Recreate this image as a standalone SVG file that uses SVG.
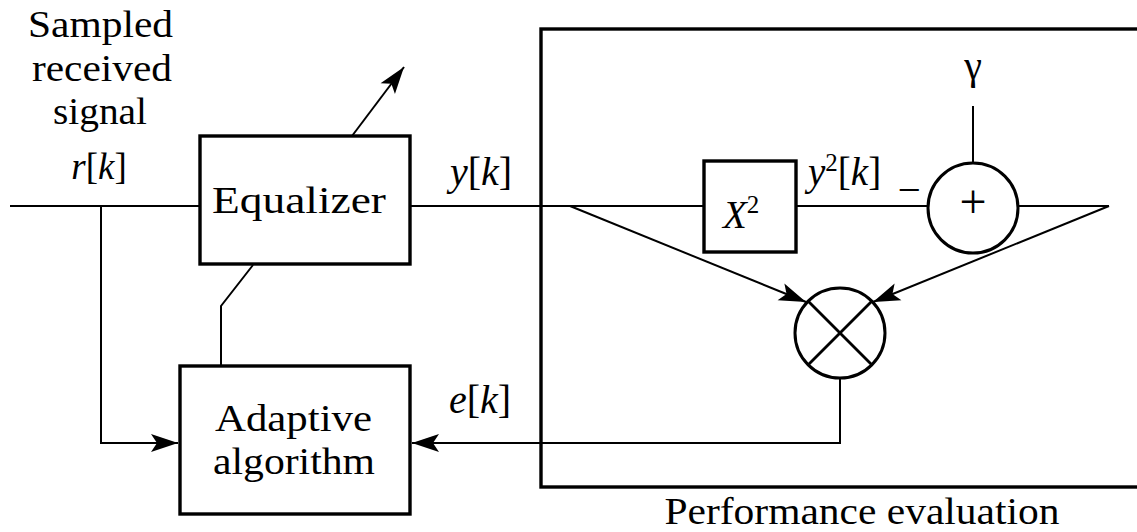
<svg xmlns="http://www.w3.org/2000/svg" width="1137" height="532" viewBox="0 0 1137 532">
  <defs>
    <!-- filled arrowhead with a notched back -->
    <marker id="arrow" markerUnits="userSpaceOnUse" markerWidth="30" markerHeight="22" viewBox="-28 -11 30 22" refX="0" refY="0" orient="auto">
      <path d="M0,0 L-27,-9 L-21,0 L-27,9 Z" fill="#000"/>
    </marker>
  </defs>
  <style>
    .box { fill: #fff; stroke: #000; stroke-width: 3.4; }
    .ring { fill: #fff; stroke: #000; stroke-width: 3; }
    .wire { fill: none; stroke: #000; stroke-width: 2; }
    .cross { fill: none; stroke: #000; stroke-width: 2.8; }
    .frame { fill: none; stroke: #000; stroke-width: 3.4; }
    text { font-family: "Liberation Serif", "Times New Roman", serif; fill: #000; font-size: 37px; }
    .c { text-anchor: middle; }
    .i { font-style: italic; }
    .sup { font-size: 25px; }
  </style>

  <rect width="1137" height="532" fill="#fff"/>

  <!-- performance evaluation frame (runs past the right edge) -->
  <g id="frame">
    <rect class="frame" x="541" y="29" width="620" height="458"/>
    <text class="c" x="862" y="524" textLength="395" lengthAdjust="spacingAndGlyphs">Performance evaluation</text>
  </g>

  <!-- connectors -->
  <g id="connectors">
    <!-- input r[k] into the equalizer -->
    <line class="wire" x1="10" y1="206" x2="200" y2="206"/>
    <!-- r[k] branch to the adaptive algorithm -->
    <polyline class="wire" points="101,206 101,443 178,443" marker-end="url(#arrow)"/>
    <!-- equalizer output y[k] to squarer -->
    <line class="wire" x1="410" y1="206" x2="704" y2="206"/>
    <!-- squarer to summer -->
    <line class="wire" x1="796" y1="206" x2="928" y2="206"/>
    <!-- gamma into summer -->
    <line class="wire" x1="973" y1="106" x2="973" y2="163"/>
    <!-- summer output -->
    <line class="wire" x1="1018" y1="206" x2="1109" y2="206"/>
    <!-- y[k] tap into multiplier -->
    <line class="wire" x1="570" y1="206" x2="806" y2="302" marker-end="url(#arrow)"/>
    <!-- summer output into multiplier -->
    <line class="wire" x1="1109" y1="206" x2="873" y2="302" marker-end="url(#arrow)"/>
    <!-- error e[k] back to the adaptive algorithm -->
    <polyline class="wire" points="840,378 840,443 412,443" marker-end="url(#arrow)"/>
    <!-- coefficient update from adaptive algorithm to equalizer -->
    <polyline class="wire" points="221,366 221,306 253,265"/>
    <!-- adjustable-tap arrow through the equalizer -->
    <line class="wire" x1="352" y1="136" x2="404" y2="67" marker-end="url(#arrow)"/>
  </g>

  <!-- input label -->
  <g id="input-label">
    <text class="c" x="100.5" y="37" textLength="145" lengthAdjust="spacingAndGlyphs">Sampled</text>
    <text class="c" x="102" y="81" textLength="140" lengthAdjust="spacingAndGlyphs">received</text>
    <text class="c" x="100" y="124" textLength="94" lengthAdjust="spacingAndGlyphs">signal</text>
    <text class="c" x="99" y="179"><tspan class="i">r</tspan>[<tspan class="i">k</tspan>]</text>
  </g>

  <g id="equalizer">
    <rect class="box" x="200" y="136" width="210" height="128"/>
    <text class="c" x="299" y="213" textLength="174" lengthAdjust="spacingAndGlyphs">Equalizer</text>
  </g>

  <g id="adaptive">
    <rect class="box" x="180" y="366" width="230" height="148"/>
    <text class="c" x="293.5" y="431" textLength="157" lengthAdjust="spacingAndGlyphs">Adaptive</text>
    <text class="c" x="294" y="474" textLength="162" lengthAdjust="spacingAndGlyphs">algorithm</text>
  </g>

  <g id="labels">
    <text class="c" x="481" y="185" style="font-size:40px"><tspan class="i">y</tspan>[<tspan class="i">k</tspan>]</text>
    <text class="c" x="480" y="413" style="font-size:40px"><tspan class="i">e</tspan>[<tspan class="i">k</tspan>]</text>
    <text x="808" y="185" style="font-size:39px"><tspan class="i">y</tspan><tspan class="sup" dy="-14">2</tspan><tspan dy="14">[</tspan><tspan class="i">k</tspan>]</text>
    <text x="900" y="186">_</text>
    <text class="c" x="973" y="79" style="font-size:40px">γ</text>
  </g>

  <g id="squarer">
    <rect class="box" x="704" y="161" width="92" height="91"/>
    <text x="723" y="228" style="font-size:39px"><tspan class="i">X</tspan><tspan class="sup" dy="-15">2</tspan></text>
  </g>

  <g id="summer">
    <circle class="ring" cx="973" cy="208" r="45"/>
    <text class="c" x="973" y="218" style="font-size:48px">+</text>
  </g>

  <g id="multiplier">
    <circle class="ring" cx="840" cy="333" r="45"/>
    <line class="cross" x1="808" y1="301" x2="872" y2="365"/>
    <line class="cross" x1="872" y1="301" x2="808" y2="365"/>
  </g>
</svg>
